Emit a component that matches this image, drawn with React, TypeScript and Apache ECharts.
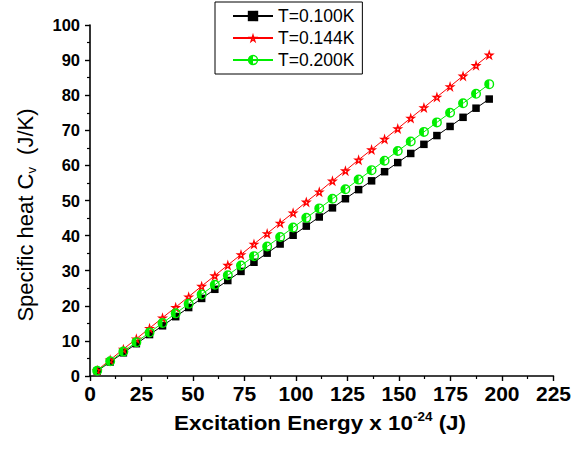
import React, { useEffect, useRef } from "react";
import * as echarts from "echarts";

const xValues = [3.5, 9.8, 16.2, 22.5, 28.9, 35.2, 41.6, 47.9, 54.2, 60.6, 66.9, 73.3, 79.6, 86.0, 92.3, 98.6, 105.0, 111.3, 117.7, 124.0, 130.4, 136.7, 143.0, 149.4, 155.7, 162.1, 168.4, 174.8, 181.1, 187.4, 193.8];
const cvT0100 = [1.4, 4.0, 6.6, 9.2, 11.8, 14.3, 16.9, 19.5, 22.1, 24.7, 27.2, 29.8, 32.4, 35.0, 37.6, 40.1, 42.7, 45.3, 47.9, 50.5, 53.1, 55.6, 58.2, 60.8, 63.4, 66.0, 68.5, 71.1, 73.7, 76.3, 78.9];
const cvT0144 = [1.65, 4.6, 7.65, 10.6, 13.6, 16.6, 19.6, 22.6, 25.6, 28.6, 31.6, 34.6, 37.6, 40.6, 43.6, 46.5, 49.6, 52.5, 55.6, 58.5, 61.6, 64.5, 67.5, 70.5, 73.5, 76.5, 79.5, 82.5, 85.5, 88.5, 91.5];
const cvT0200 = [1.5, 4.2, 6.95, 9.65, 12.4, 15.1, 17.85, 20.55, 23.25, 26.0, 28.7, 31.45, 34.15, 36.9, 39.6, 42.3, 45.05, 47.75, 50.5, 53.2, 55.95, 58.65, 61.35, 64.1, 66.8, 69.55, 72.25, 75.0, 77.7, 80.4, 83.15];
const seriesNames = ["T=0.100K", "T=0.144K", "T=0.200K"];
const xTicks = { min: 0, max: 225, interval: 25 };
const yTicks = { min: 0, max: 100, interval: 10 };

const FONT = "'Liberation Sans', Arial, sans-serif";

const STAR =
  "path://M50 0 L61.23 34.55 L97.55 34.55 L68.16 55.9 L79.39 90.45 L50 69.1 L20.61 90.45 L31.84 55.9 L2.45 34.55 L38.77 34.55 Z M55.29 42.72 L44.71 42.72 L41.44 52.78 L50 59 L58.56 52.78 Z";
const HALF =
  "path://M0 50 A50 50 0 1 1 100 50 A50 50 0 1 1 0 50 Z M50 14 L50 86 A36 36 0 0 0 50 14 Z";

export default function App() {
  const ref = useRef<HTMLDivElement>(null);
  useEffect(() => {
    if (!ref.current) return;
    const chart = echarts.init(ref.current, undefined, { renderer: "svg" });
    const pairs = (ys: number[]) => xValues.map((x, i) => [x, ys[i]]);
    chart.setOption({
      animation: false,
      backgroundColor: "#ffffff",
      grid: { left: 90, right: 19, top: 25, bottom: 76 },
      legend: {
        orient: "vertical",
        left: 215,
        top: 2,
        padding: [5, 8, 5, 17],
        itemGap: 4,
        itemWidth: 40,
        itemHeight: 13,
        itemTextGap: 7,
        borderColor: "#000",
        borderWidth: 1,
        textStyle: { fontSize: 17.5, color: "#000", fontFamily: FONT },
        data: seriesNames,
      },
      xAxis: {
        type: "value",
        min: xTicks.min,
        max: xTicks.max,
        interval: xTicks.interval,
        axisLine: { show: true, lineStyle: { color: "#000", width: 1.6 } },
        axisTick: { show: true, length: 5, lineStyle: { color: "#000", width: 1.4 } },
        minorTick: { show: true, splitNumber: 2, length: 3, lineStyle: { color: "#000", width: 1.2 } },
        splitLine: { show: false },
        axisLabel: { margin: 7, fontSize: 21, fontWeight: "bold", color: "#000", fontFamily: FONT },
      },
      yAxis: {
        type: "value",
        min: yTicks.min,
        max: yTicks.max,
        interval: yTicks.interval,
        axisLine: { show: true, lineStyle: { color: "#000", width: 1.6 } },
        axisTick: { show: true, length: 5, lineStyle: { color: "#000", width: 1.4 } },
        minorTick: { show: true, splitNumber: 2, length: 3, lineStyle: { color: "#000", width: 1.2 } },
        splitLine: { show: false },
        axisLabel: { margin: 10, fontSize: 16.5, fontWeight: "bold", color: "#000", fontFamily: FONT },
      },
      series: [
        {
          name: seriesNames[0],
          type: "line",
          data: pairs(cvT0100),
          symbol: "rect",
          symbolSize: 7.5,
          lineStyle: { color: "#000", width: 1 },
          itemStyle: { color: "#000" },
        },
        {
          name: seriesNames[1],
          type: "line",
          data: pairs(cvT0144),
          symbol: STAR,
          symbolSize: 11,
          lineStyle: { color: "#ff0000", width: 1 },
          itemStyle: { color: "#ff0000" },
        },
        {
          name: seriesNames[2],
          type: "line",
          data: pairs(cvT0200),
          symbol: HALF,
          symbolSize: 10,
          lineStyle: { color: "#00ee00", width: 1 },
          itemStyle: { color: "#00ee00" },
        },
      ],
      graphic: [
        {
          type: "text",
          x: 320,
          y: 423,
          scaleX: 1.12,
          style: {
            text: "{a|Excitation Energy x 10}{s|-24}{a| (J)}",
            align: "center",
            verticalAlign: "middle",
            fill: "#000",
            rich: {
              a: { fontSize: 20, fontWeight: "bold", fontFamily: FONT, lineHeight: 24, fill: "#000" },
              s: { fontSize: 12, fontWeight: "bold", fontFamily: FONT, lineHeight: 12, verticalAlign: "top", fill: "#000" },
            },
          },
        },
        {
          type: "text",
          x: 25,
          y: 215,
          rotation: Math.PI / 2,
          style: {
            text: "{a|Specific heat C}{v|v}{a|  (J/K)}",
            align: "center",
            verticalAlign: "middle",
            fill: "#000",
            rich: {
              a: { fontSize: 22, fontFamily: FONT, lineHeight: 26, fill: "#000" },
              v: { fontSize: 13, fontFamily: FONT, lineHeight: 13, verticalAlign: "bottom", fill: "#000" },
            },
          },
        },
      ],
    });
    return () => chart.dispose();
  }, []);
  return (
    <div
      ref={ref}
      style={{ position: "fixed", left: 0, top: 0, width: 574, height: 452, background: "#fff" }}
    />
  );
}
